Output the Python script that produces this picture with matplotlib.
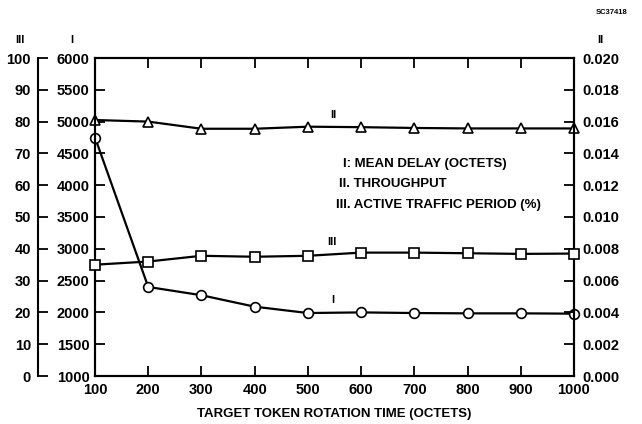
import matplotlib
matplotlib.use("Agg")
import matplotlib.pyplot as plt

plt.rcParams['font.family'] = ['Liberation Sans', 'DejaVu Sans']
plt.rcParams['font.weight'] = 'bold'

# target token rotation time (octets)
ttrt = [100, 200, 300, 400, 500, 600, 700, 800, 900, 1000]
# I: mean delay (octets)
mean_delay = [4750, 2400, 2270, 2090, 1990, 2000, 1990, 1985, 1985, 1980]
# II: throughput
throughput = [0.0161, 0.0160, 0.01555, 0.01555, 0.01568, 0.01565, 0.0156, 0.01557, 0.01557, 0.01557]
# III: active traffic period (%)
active = [35, 36, 37.8, 37.5, 37.8, 38.8, 38.8, 38.6, 38.4, 38.5]

fig = plt.figure(figsize=(6.42, 4.24), dpi=100)
W, H = 642, 424
x0, x1, y0, y1 = 95, 574, 58, 376
ax1 = fig.add_axes([x0 / W, 1 - y1 / H, (x1 - x0) / W, (y1 - y0) / H])
ax2 = ax1.twinx()
ax3 = ax1.twinx()

mk = dict(color='black', lw=1.6, markerfacecolor='white', markeredgecolor='black',
          markersize=7, markeredgewidth=1.2, clip_on=False)
ax1.plot(ttrt, mean_delay, marker='o', **mk)
ax2.plot(ttrt, throughput, marker='^', **mk)
ax3.plot(ttrt, active, marker='s', **mk)

fs = 10.5
ax1.set_xlim(100, 1000)
ax1.set_xticks(ttrt)
ax1.set_ylim(1000, 6000)
ax1.set_yticks(range(1000, 6001, 500))
ax1.tick_params(axis='both', direction='in', length=7, width=1.3, labelsize=fs, pad=4)
ax1.tick_params(axis='x', top=True, pad=5)
ax1.set_xlabel('TARGET TOKEN ROTATION TIME (OCTETS)', fontsize=9.5, fontweight='bold', labelpad=8)

ax2.set_ylim(0, 0.020)
ax2.set_yticks([i * 0.002 for i in range(11)])
ax2.set_yticklabels(['%.3f' % (i * 0.002) for i in range(11)])
ax2.tick_params(axis='y', direction='in', length=7, width=1.3, labelsize=fs, pad=6)

ax3.set_ylim(0, 100)
ax3.set_yticks(range(0, 101, 10))
ax3.yaxis.set_ticks_position('left')
ax3.yaxis.set_label_position('left')
ax3.spines['left'].set_position(('axes', (38 - x0) / (x1 - x0)))
ax3.spines['left'].set_visible(True)
for s in ['right', 'top', 'bottom']:
    ax3.spines[s].set_visible(False)
ax3.tick_params(axis='y', direction='in', length=7, width=1.3, labelsize=fs, pad=5)

for a in (ax1, ax2, ax3):
    for s in a.spines.values():
        s.set_linewidth(1.5)
    for lab in a.get_xticklabels() + a.get_yticklabels():
        lab.set_fontweight('bold')

# curve labels
fig.text(333 / W, 1 - 115 / H, 'II', fontsize=8, fontweight='bold', ha='center', va='center')
fig.text(332 / W, 1 - 242 / H, 'III', fontsize=8, fontweight='bold', ha='center', va='center')
fig.text(333 / W, 1 - 300 / H, 'I', fontsize=8, fontweight='bold', ha='center', va='center')

fig.text(343 / W, 1 - 164 / H, 'I: MEAN DELAY (OCTETS)', fontsize=9.5, fontweight='bold', va='center')
fig.text(339 / W, 1 - 184 / H, 'II. THROUGHPUT', fontsize=9.5, fontweight='bold', va='center')
fig.text(336 / W, 1 - 205 / H, 'III. ACTIVE TRAFFIC PERIOD (%)', fontsize=9.5, fontweight='bold', va='center')

# axis headers
fig.text(20 / W, 1 - 40 / H, 'III', fontsize=8, fontweight='bold', ha='center', va='center')
fig.text(72 / W, 1 - 40 / H, 'I', fontsize=8, fontweight='bold', ha='center', va='center')
fig.text(600 / W, 1 - 40 / H, 'II', fontsize=8, fontweight='bold', ha='center', va='center')
fig.text(612 / W, 1 - 13 / H, 'SC37418', fontsize=5.5, fontweight='bold', ha='center', va='center')

fig.savefig('out.png', dpi=100)
